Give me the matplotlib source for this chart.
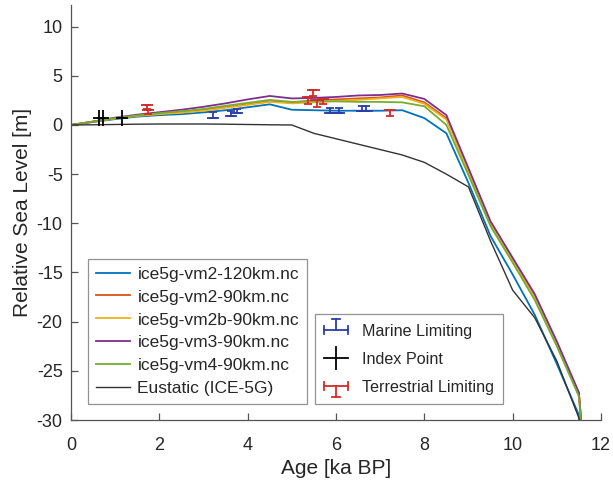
import numpy as np
import matplotlib
matplotlib.use("Agg")
import matplotlib.pyplot as plt
from matplotlib.lines import Line2D
from matplotlib.legend_handler import HandlerBase

plt.rcParams['font.family'] = ['Liberation Sans', 'DejaVu Sans']
plt.rcParams['axes.unicode_minus'] = False

# Model output, sampled every 0.5 ka
age = [0, 0.5, 1, 1.5, 2, 2.5, 3, 3.5, 4, 4.5, 5, 5.5, 6, 6.5, 7, 7.5,
       8, 8.5, 9, 9.5, 10, 10.5, 11, 11.5, 12]
vm2_120 = [0, 0.3, 0.6, 0.85, 1.0, 1.1, 1.28, 1.5, 1.8, 2.1, 1.55, 1.5, 1.45, 1.45, 1.45, 1.5,
           0.7, -0.85, -5.9, -11.3, -15.2, -19.3, -24.3, -29.5, -57]
vm2_90 = [0, 0.33, 0.68, 0.95, 1.15, 1.3, 1.5, 1.8, 2.1, 2.4, 2.3, 2.5, 2.6, 2.7, 2.8, 3.0,
          2.3, 0.7, -4.7, -10.0, -13.7, -17.4, -22.2, -27.3, -55]
vm2b_90 = [0, 0.33, 0.66, 0.92, 1.1, 1.25, 1.45, 1.75, 2.05, 2.35, 2.2, 2.3, 2.45, 2.55, 2.7, 2.85,
           2.15, 0.55, -4.8, -10.1, -13.8, -17.5, -22.3, -27.4, -55]
vm3_90 = [0, 0.35, 0.75, 1.05, 1.3, 1.55, 1.85, 2.2, 2.6, 2.95, 2.7, 2.75, 2.85, 3.0, 3.05, 3.2,
          2.65, 1.0, -4.4, -9.8, -13.5, -17.2, -22.0, -27.2, -55]
vm4_90 = [0, 0.35, 0.7, 0.98, 1.2, 1.4, 1.63, 1.95, 2.25, 2.55, 2.35, 2.4, 2.4, 2.35, 2.35, 2.3,
          1.9, 0.0, -5.1, -10.3, -14.0, -17.8, -22.5, -27.6, -55]
eustatic = [0, 0.02, 0.05, 0.08, 0.1, 0.1, 0.1, 0.08, 0.05, 0.02, 0.0, -0.85, -1.4, -1.95, -2.5, -3.05,
            -3.8, -5.0, -6.3, -11.8, -16.8, -19.6, -24.0, -29.8, -40]

model_names = ['ice5g-vm2-120km.nc', 'ice5g-vm2-90km.nc', 'ice5g-vm2b-90km.nc',
               'ice5g-vm3-90km.nc', 'ice5g-vm4-90km.nc', 'Eustatic (ICE-5G)']
model_colors = ['#0072BD', '#D95319', '#EDB120', '#7E2F8E', '#77AC30', '#333333']

# Observations
marine_age = [3.22, 3.62, 3.75, 5.86, 6.07, 6.6, 6.69]
marine_rsl = [0.75, 0.92, 1.25, 1.26, 1.26, 1.46, 1.46]
marine_up = [0.6, 0.55, 0.4, 0.5, 0.5, 0.5, 0.5]

index_age = [0.64, 0.72, 1.16]
index_rsl = [0.68, 0.68, 0.68]
index_err = [0.8, 0.8, 0.8]

terr_age = [1.72, 1.75, 5.49, 5.37, 5.56, 5.7, 7.22]
terr_rsl = [2.05, 1.55, 3.55, 2.85, 2.55, 2.6, 1.53]
terr_down = [0.45, 0.45, 0.65, 0.7, 0.7, 0.5, 0.58]

age_err = 0.14
marine_color = '#2B3FA8'
terr_color = '#D42A2A'

fig = plt.figure(figsize=(6.13, 4.86), dpi=100)
ax = fig.add_axes([0.1158, 0.1358, 0.8646, 0.8539])

series = [vm2_120, vm2_90, vm2b_90, vm3_90, vm4_90, eustatic]
line_handles = []
for vals, name, col in zip(series, model_names, model_colors):
    lw = 1.0 if name.startswith('Eustatic') else 1.3
    h, = ax.plot(age, vals, color=col, lw=lw, label=name)
    line_handles.append(h)

# horizontal (age) bars without caps, vertical (limit) bars with caps
ebar = dict(fmt='none', elinewidth=1.3, capthick=1.3)
ax.errorbar(marine_age, marine_rsl, xerr=age_err, ecolor=marine_color, capsize=0, **ebar)
ax.errorbar(marine_age, marine_rsl, yerr=[np.zeros(len(marine_up)), marine_up],
            ecolor=marine_color, capsize=3, **ebar)
ax.errorbar(index_age, index_rsl, xerr=age_err, yerr=index_err,
            ecolor='black', capsize=0, **ebar)
ax.errorbar(terr_age, terr_rsl, xerr=age_err, ecolor=terr_color, capsize=0, **ebar)
ax.errorbar(terr_age, terr_rsl, yerr=[terr_down, np.zeros(len(terr_down))],
            ecolor=terr_color, capsize=3, **ebar)

ax.set_xlim(0, 12)
ax.set_ylim(-30, 12.2)
ax.set_xticks(range(0, 13, 2))
ax.set_yticks(range(-30, 11, 5))
ax.spines['top'].set_visible(False)
ax.spines['right'].set_visible(False)
for s in ['left', 'bottom']:
    ax.spines[s].set_color('#555555')
    ax.spines[s].set_linewidth(0.9)
ax.tick_params(direction='in', length=5, width=0.9, color='#555555',
               labelsize=13, labelcolor='#262626', pad=6)
ax.tick_params(axis='x', pad=12)
ax.set_xlabel('Age [ka BP]', fontsize=15, color='#262626', labelpad=4)
ax.set_ylabel('Relative Sea Level [m]', fontsize=15, color='#262626', labelpad=3)

leg1 = ax.legend(handles=line_handles, loc='lower left', bbox_to_anchor=(0.032, 0.038),
                 fontsize=12.5, frameon=True, fancybox=False, edgecolor='#777777',
                 handlelength=2.0, handletextpad=0.4, labelspacing=0.45,
                 borderpad=0.45, borderaxespad=0)
leg1.get_frame().set_linewidth(0.9)
for t in leg1.get_texts():
    t.set_color('#262626')
ax.add_artist(leg1)


class HandlerLimit(HandlerBase):
    def __init__(self, color, kind):
        super().__init__()
        self.color = color
        self.kind = kind

    def create_artists(self, legend, orig_handle, xdescent, ydescent,
                       width, height, fontsize, trans):
        cx = width / 2 - xdescent
        cy = height / 2 - ydescent
        hw = width / 2
        v = height * 1.0
        c = 3.0
        kw = dict(color=self.color, lw=1.3, transform=trans)
        arts = [Line2D([cx - hw, cx + hw], [cy, cy], **kw)]
        if self.kind == 'index':
            arts.append(Line2D([cx, cx], [cy - v, cy + v], **kw))
            return arts
        arts.append(Line2D([cx - hw, cx - hw], [cy - c, cy + c], **kw))
        arts.append(Line2D([cx + hw, cx + hw], [cy - c, cy + c], **kw))
        end = cy + v if self.kind == 'marine' else cy - v
        arts.append(Line2D([cx, cx], [cy, end], **kw))
        arts.append(Line2D([cx - c, cx + c], [end, end], **kw))
        return arts


h_m = Line2D([], [], color=marine_color)
h_i = Line2D([], [], color='black')
h_t = Line2D([], [], color=terr_color)
leg2 = ax.legend([h_m, h_i, h_t], ['Marine Limiting', 'Index Point', 'Terrestrial Limiting'],
                 handler_map={h_m: HandlerLimit(marine_color, 'marine'),
                              h_i: HandlerLimit('black', 'index'),
                              h_t: HandlerLimit(terr_color, 'terr')},
                 loc='lower left', bbox_to_anchor=(0.46, 0.038),
                 fontsize=11.6, frameon=True, fancybox=False, edgecolor='#777777',
                 handlelength=1.45, handletextpad=0.85, labelspacing=0.8,
                 borderpad=0.6, borderaxespad=0)
leg2.get_frame().set_linewidth(0.9)
for t in leg2.get_texts():
    t.set_color('#262626')

fig.savefig('out.png', dpi=100)
